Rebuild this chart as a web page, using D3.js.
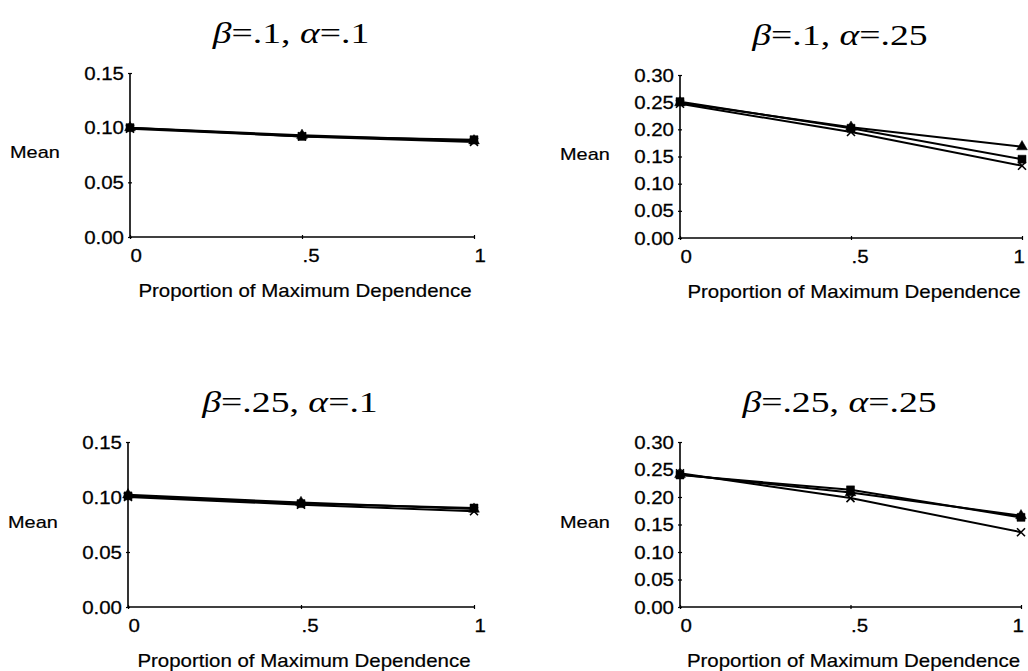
<!DOCTYPE html>
<html>
<head>
<meta charset="utf-8">
<script src="https://cdn.jsdelivr.net/npm/d3@7"></script>
<style>
  body { margin: 0; background: #fff; }
  svg { display: block; }
</style>
</head>
<body>
<div class="charts"></div>
<script>

// x positions (proportion of maximum dependence)
const props = [0, 0.5, 1]
const propLabels = ['0', '.5', '1']

const panelTitles = [
    ['β', '=.1, ', 'α', '=.1'],
    ['β', '=.1, ', 'α', '=.25'],
    ['β', '=.25, ', 'α', '=.1'],
    ['β', '=.25, ', 'α', '=.25']
]

const yMax = [0.15, 0.30, 0.15, 0.30]

// mean values per panel, one list per marker type
const triangleVals = [
    [0.100, 0.093, 0.088],
    [0.249, 0.204, 0.168],
    [0.102, 0.095, 0.089],
    [0.241, 0.208, 0.166]
]
const squareVals = [
    [0.100, 0.092, 0.089],
    [0.251, 0.202, 0.145],
    [0.101, 0.094, 0.090],
    [0.240, 0.213, 0.163]
]
const crossVals = [
    [0.099, 0.092, 0.087],
    [0.247, 0.195, 0.133],
    [0.100, 0.093, 0.087],
    [0.243, 0.198, 0.136]
]

const width = 1028, height = 671

// plot boxes: left, right, top, bottom
const boxes = [
    { l: 130, r: 474, t: 73, b: 237 },
    { l: 680, r: 1022, t: 75, b: 238 },
    { l: 128, r: 474, t: 442, b: 607 },
    { l: 680, r: 1021, t: 442, b: 607 }
]

const sansFont = '"Liberation Sans", Arial, sans-serif'
const serifFont = '"Liberation Serif", "Times New Roman", serif'
const stretch = 1.17

function charts() {

    const svg = d3.select('.charts')
        .append('svg')
        .attr('width', width)
        .attr('height', height)

    svg.append('rect').attr('width', width).attr('height', height).attr('fill', '#fff')

    const panels = panelTitles.map((t, i) => ({
        title: t,
        box: boxes[i],
        ymax: yMax[i],
        series: [
            { shape: 'triangle', values: triangleVals[i] },
            { shape: 'square', values: squareVals[i] },
            { shape: 'cross', values: crossVals[i] }
        ]
    }))

    svg.selectAll('.panel')
        .data(panels)
        .join('g')
        .attr('class', 'panel')
        .each(function (p) {

            const sel = d3.select(this)
            const b = p.box

            const x = d3.scaleLinear().domain([0, 1]).range([b.l, b.r])
            const y = d3.scaleLinear().domain([0, p.ymax]).range([b.b, b.t])
            const yTicks = d3.range(0, p.ymax + 0.001, 0.05)

            // y axis
            const gy = sel.append('g')
                .attr('transform', 'translate(' + b.l + ',0)')
                .call(d3.axisLeft(y).tickValues(yTicks).tickFormat(d3.format('.2f')).tickSize(3).tickPadding(4))
            gy.select('.domain').attr('d', 'M0,' + b.t + 'V' + b.b).attr('stroke-width', 1.6)
            gy.selectAll('.tick line').attr('x1', -2).attr('x2', 2).attr('stroke-width', 1.2)
            gy.selectAll('.tick text')
                .attr('x', null)
                .attr('dy', null)
                .attr('font-family', sansFont)
                .attr('font-size', 17.5)
                .attr('fill', '#000')
                .attr('stroke', '#000')
                .attr('stroke-width', 0.25)
                .attr('text-anchor', 'end')
                .attr('transform', 'translate(-6,6) scale(' + stretch + ',1)')

            // x axis
            const gx = sel.append('g')
                .attr('transform', 'translate(0,' + b.b + ')')
                .call(d3.axisBottom(x).tickValues(props).tickFormat((d, i) => propLabels[i]).tickSize(3))
            gx.select('.domain').attr('d', 'M' + b.l + ',0H' + b.r).attr('stroke-width', 1.6)
            gx.selectAll('.tick line').attr('y1', -2).attr('y2', 2).attr('stroke-width', 1.2)
            gx.selectAll('.tick text')
                .attr('y', null)
                .attr('dy', null)
                .attr('font-family', sansFont)
                .attr('font-size', 17.5)
                .attr('fill', '#000')
                .attr('stroke', '#000')
                .attr('stroke-width', 0.25)
                .attr('text-anchor', 'start')
                .attr('transform', (d, i) => 'translate(' + (b.r > 1000 && i === 2 ? -9 : 0) + ',25) scale(' + stretch + ',1)')

            // axis titles
            sel.append('text')
                .attr('transform', 'translate(' + ((b.l + b.r) / 2 + 3) + ',' + (b.b + 60) + ') scale(' + stretch + ',1)')
                .attr('text-anchor', 'middle')
                .attr('font-family', sansFont)
                .attr('font-size', 17.5)
                .attr('stroke', '#000')
                .attr('stroke-width', 0.2)
                .text('Proportion of Maximum Dependence')

            sel.append('text')
                .attr('transform', 'translate(' + (b.l - 120) + ',' + ((b.t + b.b) / 2 + 3) + ') scale(' + stretch + ',1)')
                .attr('font-family', sansFont)
                .attr('font-size', 17)
                .attr('stroke', '#000')
                .attr('stroke-width', 0.2)
                .text('Mean')

            // panel title
            sel.append('text')
                .attr('transform', 'translate(' + ((b.l + b.r) / 2 - 11) + ',' + (b.t - 30) + ') scale(1.3,1)')
                .attr('text-anchor', 'middle')
                .attr('font-family', serifFont)
                .attr('font-size', 29)
                .selectAll('tspan')
                .data(p.title)
                .join('tspan')
                .attr('font-style', (d, i) => i % 2 === 0 ? 'italic' : 'normal')
                .text(d => d)

            // lines
            const line = d3.line().x((d, i) => x(props[i])).y(d => y(d))

            sel.selectAll('.series')
                .data(p.series)
                .join('g')
                .attr('class', 'series')
                .call(g => {

                    g.append('path')
                        .attr('d', d => line(d.values))
                        .attr('fill', 'none')
                        .attr('stroke', '#000')
                        .attr('stroke-width', 2)

                    g.selectAll('.mark')
                        .data(d => d.values.map((v, i) => ({ shape: d.shape, v: v, p: props[i] })))
                        .join('path')
                        .attr('class', 'mark')
                        .attr('transform', d => 'translate(' + x(d.p) + ',' + y(d.v) + ')')
                        .attr('d', d => {
                            if (d.shape === 'triangle') return d3.symbol(d3.symbolTriangle, 50)()
                            if (d.shape === 'square') return d3.symbol(d3.symbolSquare, 64)()
                            return 'M-4,-4L4,4M-4,4L4,-4'
                        })
                        .attr('fill', d => d.shape === 'cross' ? 'none' : '#000')
                        .attr('stroke', '#000')
                        .attr('stroke-width', d => d.shape === 'cross' ? 1.6 : 0.5)
                })
        })
}

charts()
</script>
</body>
</html>
